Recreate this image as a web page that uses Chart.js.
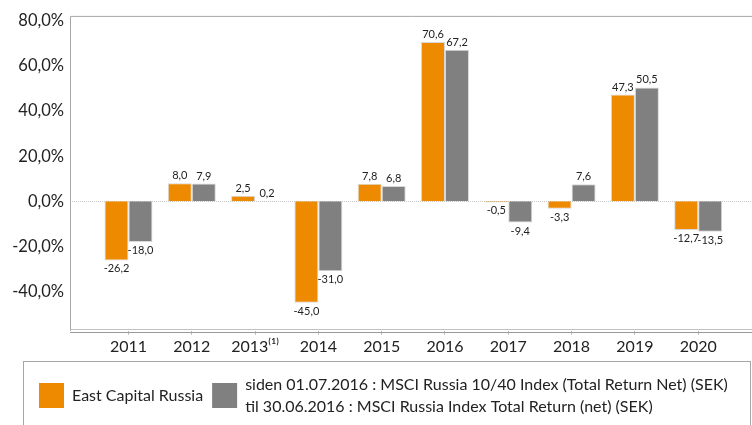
<!DOCTYPE html>
<html>
<head>
<meta charset="utf-8">
<script src="https://cdn.jsdelivr.net/npm/chart.js@4"></script>
<style>
  body { margin: 0; background: #fff; }
</style>
</head>
<body>
<canvas id="chart" width="752" height="425"></canvas>
<script>
// chart data
const years = ['2011', '2012', '2013\u207D\u00B9\u207E', '2014', '2015', '2016', '2017', '2018', '2019', '2020'];
const fund = [-26.2, 8.0, 2.5, -45.0, 7.8, 70.6, -0.5, -3.3, 47.3, -12.7];
const bench = [-18.0, 7.9, 0.2, -31.0, 6.8, 67.2, -9.4, 7.6, 50.5, -13.5];
const yTicks = [-40, -20, 0, 20, 40, 60, 80];
const fundName = 'East Capital Russia';
const benchName = [
    'siden 01.07.2016 : MSCI Russia 10/40 Index (Total Return Net) (SEK)',
    'til 30.06.2016 : MSCI Russia Index Total Return (net) (SEK)'
];

const FONT = 'Lato, "Open Sans", sans-serif';
const ORANGE = '#ee8a00';
const GREY = '#808080';

function fmt(v) {
    return v.toFixed(1).replace('.', ',');
}

// frame, zero line
const framePlugin = {
    id: 'frame',
    beforeDatasetsDraw(c) {
        const ctx = c.ctx, a = c.chartArea, y = c.scales.y;
        ctx.save();
        ctx.lineWidth = 1;

        let y0 = Math.round(y.getPixelForValue(0)) + 0.5;
        ctx.strokeStyle = '#c8c8c8';
        ctx.setLineDash([1, 1]);
        ctx.beginPath();
        ctx.moveTo(a.left, y0);
        ctx.lineTo(a.right, y0);
        ctx.stroke();
        ctx.setLineDash([]);

        ctx.strokeStyle = '#a6a6a6';
        ctx.beginPath();
        ctx.moveTo(a.left + 0.5, a.bottom);
        ctx.lineTo(a.left + 0.5, a.top + 0.5);
        ctx.lineTo(a.right, a.top + 0.5);
        ctx.stroke();

        ctx.strokeStyle = '#c0c0c0';
        ctx.beginPath();
        ctx.moveTo(a.left, a.bottom - 1.5);
        ctx.lineTo(a.right, a.bottom - 1.5);
        ctx.stroke();
        ctx.strokeStyle = '#999';
        ctx.beginPath();
        ctx.moveTo(a.left, a.bottom + 1.5);
        ctx.lineTo(a.right, a.bottom + 1.5);
        ctx.stroke();
        ctx.restore();
    }
};

// value labels on the bars
const labelPlugin = {
    id: 'barLabels',
    afterDatasetsDraw(c) {
        const ctx = c.ctx;
        ctx.save();
        ctx.font = '11px ' + FONT;
        ctx.fillStyle = '#222';
        ctx.textAlign = 'center';
        c.data.datasets.forEach((ds, di) => {
            c.getDatasetMeta(di).data.forEach((bar, i) => {
                let v = ds.data[i].y;
                if (v >= 0) {
                    ctx.textBaseline = 'bottom';
                    ctx.fillText(fmt(v), bar.x, bar.y - 2);
                } else {
                    ctx.textBaseline = 'top';
                    ctx.fillText(fmt(v), bar.x, bar.y + 3);
                }
            });
        });
        ctx.restore();
    }
};

// boxed legend below the chart
const legendPlugin = {
    id: 'boxLegend',
    afterDraw(c) {
        const ctx = c.ctx;
        ctx.save();
        ctx.strokeStyle = '#a6a6a6';
        ctx.lineWidth = 1;
        ctx.strokeRect(23.5, 361.5, 727, 80);

        ctx.font = '16px ' + FONT;
        ctx.textBaseline = 'middle';
        let x = 39;
        c.data.datasets.forEach(ds => {
            ctx.fillStyle = ds.backgroundColor;
            ctx.fillRect(x, 383, 25, 25);
            x += 25 + 8;
            let lines = ds.label.split('\n');
            ctx.fillStyle = '#222';
            let w = 0;
            lines.forEach((t, k) => {
                let ly = lines.length == 1 ? 396 : 385 + k * 22;
                ctx.fillText(t, x, ly);
                w = Math.max(w, ctx.measureText(t).width);
            });
            x += w + 9;
        });
        ctx.restore();
    }
};

new Chart(document.getElementById('chart'), {
    type: 'bar',
    data: {
        datasets: [
            {
                label: fundName,
                data: fund.map((v, i) => ({ x: i, y: v })),
                backgroundColor: ORANGE,
                borderColor: '#d8d8d8',
                borderWidth: 1
            },
            {
                label: benchName.join('\n'),
                data: bench.map((v, i) => ({ x: i, y: v })),
                backgroundColor: GREY,
                borderColor: '#d8d8d8',
                borderWidth: 1
            }
        ]
    },
    options: {
        responsive: false,
        animation: false,
        categoryPercentage: 0.758,
        barPercentage: 1,
        layout: { padding: { top: 15, left: 0, right: 0, bottom: 0 } },
        plugins: {
            legend: { display: false },
            tooltip: { enabled: false }
        },
        scales: {
            x: {
                type: 'linear',
                min: -0.924,
                max: 9.85,
                offset: false,
                afterBuildTicks: s => { s.ticks = years.map((_, i) => ({ value: i })); },
                afterFit: s => { s.height = 94; },
                ticks: {
                    callback: v => years[v],
                    font: { family: FONT, size: 16 },
                    color: '#222',
                    padding: 2,
                    autoSkip: false,
                    maxRotation: 0
                },
                grid: { drawOnChartArea: false, offset: false, tickLength: 4, color: '#c0c0c0' },
                border: { display: false }
            },
            y: {
                min: -57.5,
                max: 82.2,
                afterBuildTicks: s => { s.ticks = yTicks.map(v => ({ value: v })); },
                afterFit: s => { s.width = 70; },
                ticks: {
                    callback: v => fmt(v) + '%',
                    font: { family: FONT, size: 16.5 },
                    color: '#222',
                    padding: 6
                },
                grid: { display: false, drawTicks: false },
                border: { display: false }
            }
        }
    },
    plugins: [framePlugin, labelPlugin, legendPlugin]
});
</script>
</body>
</html>
